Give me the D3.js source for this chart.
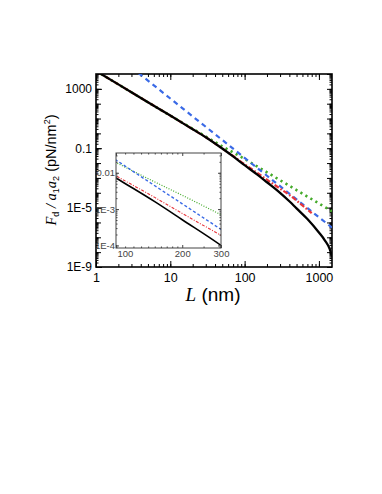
<!DOCTYPE html>
<html>
<head>
<meta charset="utf-8">
<script src="https://cdn.jsdelivr.net/npm/d3@7"></script>
<style>
  body { margin: 0; background: #fff; }
  svg { display: block; }
</style>
</head>
<body>
<script>
// values: L in nm, F/a1a2 in pN/nm^2
const lengthBlack = [1, 2, 5, 10, 20, 30, 50, 70, 100, 150, 200, 300, 400, 500, 700, 1000, 1200, 1400, 1500];
const forceBlack = [1.6e4, 2.0e3, 126, 15.8, 1.9, 0.55, 0.095, 0.028, 7.2e-3, 1.6e-3, 5.1e-4, 1.0e-4, 2.7e-5, 8.9e-6, 1.7e-6, 2.1e-7, 6.3e-8, 1.6e-8, 5e-9];

const lengthRed = [1, 2, 5, 10, 20, 30, 50, 70, 100, 150, 200, 300, 400, 500, 600, 800];
const forceRed = [1.6e4, 2.0e3, 126, 15.8, 1.9, 0.55, 0.095, 0.03, 8.3e-3, 2.1e-3, 7.6e-4, 1.9e-4, 7.1e-5, 3.0e-5, 1.4e-5, 4.2e-6];

const lengthBlue = [3, 5, 10, 20, 50, 100, 150, 200, 300, 500, 1000, 1500];
const forceBlue = [2.75e4, 3.6e3, 224, 14, 0.36, 0.0224, 4.4e-3, 1.4e-3, 2.76e-4, 3.6e-5, 2.24e-6, 4.5e-7];

const lengthGreen = [1, 2, 5, 10, 20, 50, 100, 150, 200, 300, 500, 1000, 1500];
const forceGreen = [1.6e4, 2.0e3, 126, 15.8, 2.05, 0.135, 0.019, 5.6e-3, 2.4e-3, 7.0e-4, 1.52e-4, 1.9e-5, 5.6e-6];

const xTicks = [1, 10, 100, 1000];
const xTickLabels = ['1', '10', '100', '1000'];
const yTicks = [1e3, 1e-1, 1e-5, 1e-9];
const yTickLabels = ['1000', '0.1', '1E-5', '1E-9'];

const insetXTicks = [100, 200, 300];
const insetXTickLabels = ['100', '200', '300'];
const insetYTicks = [1e-2, 1e-3, 1e-4];
const insetYTickLabels = ['0.01', '1E-3', '1E-4'];

const width = 382;
const height = 494;
const sans = '"Liberation Sans", Arial, sans-serif';
const serif = '"Liberation Serif", "Times New Roman", serif';

const svg = d3.select('body').append('svg')
  .attr('width', width)
  .attr('height', height);

svg.append('rect').attr('width', width).attr('height', height).attr('fill', '#fff');

const plot = { left: 96, right: 332, top: 74, bottom: 267 };
const x = d3.scaleLog().domain([1, 1500]).range([plot.left, plot.right]);
const y = d3.scaleLog().domain([1e-9, 1e4]).range([plot.bottom, plot.top]);

// log minor ticks 2..9 per decade inside a domain
function minorTicks(lo, hi) {
  const out = [];
  for (let k = Math.floor(Math.log10(lo)); k <= Math.ceil(Math.log10(hi)); k++) {
    for (let m = 1; m <= 9; m++) {
      const v = m * Math.pow(10, k);
      if (v >= lo && v <= hi) out.push(v);
    }
  }
  return out;
}

function drawAxis(axis, tx, ty, fontSize, color) {
  const g = svg.append('g')
    .attr('transform', `translate(${tx},${ty})`)
    .call(axis);
  g.select('.domain').remove();
  g.attr('font-family', sans).attr('font-size', fontSize);
  g.selectAll('line').attr('stroke', color);
  g.selectAll('text').attr('fill', color);
  return g;
}

// ---- main axes ----
const xMinor = minorTicks(1, 1500);
const yDecades = d3.range(-9, 5).map(k => Math.pow(10, k));
const yMinor = minorTicks(1e-9, 1e4);

drawAxis(d3.axisBottom(x).tickValues(xMinor).tickSize(-3).tickFormat(''), 0, plot.bottom, 12, '#000');
drawAxis(d3.axisBottom(x).tickValues(xTicks).tickSize(-6).tickPadding(6)
  .tickFormat((d, i) => xTickLabels[i]), 0, plot.bottom, 12.5, '#000');
drawAxis(d3.axisTop(x).tickValues(xMinor).tickSize(-3).tickFormat(''), 0, plot.top, 12, '#000');
drawAxis(d3.axisTop(x).tickValues(xTicks).tickSize(-6).tickFormat(''), 0, plot.top, 12, '#000');

drawAxis(d3.axisLeft(y).tickValues(yMinor).tickSize(-2.5).tickFormat(''), plot.left, 0, 12, '#000');
drawAxis(d3.axisLeft(y).tickValues(yDecades).tickSize(-5).tickFormat(''), plot.left, 0, 12, '#000');
drawAxis(d3.axisLeft(y).tickValues(yTicks).tickSize(-6).tickPadding(4)
  .tickFormat((d, i) => yTickLabels[i]), plot.left, 0, 12, '#000');
drawAxis(d3.axisRight(y).tickValues(yMinor).tickSize(-2.5).tickFormat(''), plot.right, 0, 12, '#000');
drawAxis(d3.axisRight(y).tickValues(yDecades).tickSize(-5).tickFormat(''), plot.right, 0, 12, '#000');

svg.append('rect')
  .attr('x', plot.left).attr('y', plot.top)
  .attr('width', plot.right - plot.left).attr('height', plot.bottom - plot.top)
  .attr('fill', 'none').attr('stroke', '#000').attr('stroke-width', 1.6);

// ---- curves ----
svg.append('clipPath').attr('id', 'clipMain').append('rect')
  .attr('x', plot.left).attr('y', plot.top)
  .attr('width', plot.right - plot.left).attr('height', plot.bottom - plot.top);

const series = [
  { L: lengthGreen, F: forceGreen, color: '#44aa2a', dash: '2.2,3.6', w: 2.6, iw: 1.2, idash: '1,1.6' },
  { L: lengthBlue, F: forceBlue, color: '#3a6ae6', dash: '5,4', w: 2.2, iw: 1.4, idash: '3,2.2' },
  { L: lengthRed, F: forceRed, color: '#e8343a', dash: '5,2,1.6,2', w: 2.2, iw: 1.1, idash: '3,1.5,1,1.5' },
  { L: lengthBlack, F: forceBlack, color: '#000', dash: null, w: 2.3, iw: 1.6, idash: null }
];

const mainLine = d3.line()
  .x(d => x(d[0]))
  .y(d => y(d[1]))
  .curve(d3.curveMonotoneX);

const curves = svg.append('g').attr('clip-path', 'url(#clipMain)');
series.forEach(s => {
  curves.append('path')
    .datum(s.L.map((l, i) => [l, s.F[i]]))
    .attr('d', mainLine)
    .attr('fill', 'none')
    .attr('stroke', s.color)
    .attr('stroke-width', s.w)
    .attr('stroke-dasharray', s.dash);
});

// ---- inset ----
const inset = { left: 116, right: 221, top: 153, bottom: 248 };
const ix = d3.scaleLog().domain([100, 300]).range([inset.left, inset.right]);
const iy = d3.scaleLog().domain([8.5e-5, 0.035]).range([inset.bottom, inset.top]);

svg.append('rect')
  .attr('x', inset.left).attr('y', inset.top)
  .attr('width', inset.right - inset.left).attr('height', inset.bottom - inset.top)
  .attr('fill', '#fff');

svg.append('clipPath').attr('id', 'clipInset').append('rect')
  .attr('x', inset.left).attr('y', inset.top)
  .attr('width', inset.right - inset.left).attr('height', inset.bottom - inset.top);

const insetLine = d3.line()
  .x(d => ix(d[0]))
  .y(d => iy(d[1]))
  .curve(d3.curveMonotoneX);

const insetCurves = svg.append('g').attr('clip-path', 'url(#clipInset)');
series.forEach(s => {
  insetCurves.append('path')
    .datum(s.L.map((l, i) => [l, s.F[i]]))
    .attr('d', insetLine)
    .attr('fill', 'none')
    .attr('stroke', s.color)
    .attr('stroke-width', s.iw)
    .attr('stroke-dasharray', s.idash);
});

const insetXMinor = [110, 120, 130, 140, 150, 160, 170, 180, 190, 250];
const insetYMinor = minorTicks(8.5e-5, 0.035);
const grey = '#444';

const insetBottom = drawAxis(d3.axisBottom(ix).tickValues(insetXTicks).tickSize(-3).tickPadding(2)
  .tickFormat((d, i) => insetXTickLabels[i]), 0, inset.bottom, 9.5, grey);
// first label sits right of the corner, clear of the 1E-4 label
insetBottom.selectAll('text').filter((d, i) => i === 0).attr('text-anchor', 'start').attr('dx', 1);
drawAxis(d3.axisBottom(ix).tickValues(insetXMinor).tickSize(-1.5).tickFormat(''), 0, inset.bottom, 9, grey);
drawAxis(d3.axisTop(ix).tickValues(insetXTicks).tickSize(-3).tickFormat(''), 0, inset.top, 9, grey);
drawAxis(d3.axisTop(ix).tickValues(insetXMinor).tickSize(-1.5).tickFormat(''), 0, inset.top, 9, grey);
drawAxis(d3.axisLeft(iy).tickValues(insetYTicks).tickSize(-3).tickPadding(1)
  .tickFormat((d, i) => insetYTickLabels[i]), inset.left, 0, 9.5, grey);
drawAxis(d3.axisLeft(iy).tickValues(insetYMinor).tickSize(-1.5).tickFormat(''), inset.left, 0, 9, grey);
drawAxis(d3.axisRight(iy).tickValues(insetYTicks).tickSize(-3).tickFormat(''), inset.right, 0, 9, grey);
drawAxis(d3.axisRight(iy).tickValues(insetYMinor).tickSize(-1.5).tickFormat(''), inset.right, 0, 9, grey);

svg.append('rect')
  .attr('x', inset.left).attr('y', inset.top)
  .attr('width', inset.right - inset.left).attr('height', inset.bottom - inset.top)
  .attr('fill', 'none').attr('stroke', grey).attr('stroke-width', 1);

// ---- axis titles ----
const xTitle = svg.append('text')
  .attr('x', 213).attr('y', 301)
  .attr('text-anchor', 'middle')
  .attr('font-size', 19)
  .attr('fill', '#000');
xTitle.append('tspan').attr('font-family', serif).attr('font-style', 'italic').text('L');
xTitle.append('tspan').attr('font-family', sans).text(' (nm)');

const yTitle = svg.append('text')
  .attr('transform', 'translate(56,170) rotate(-90)')
  .attr('text-anchor', 'middle')
  .attr('font-size', 14.5)
  .attr('fill', '#000');
yTitle.append('tspan').attr('font-family', serif).attr('font-style', 'italic').text('F');
yTitle.append('tspan').attr('font-family', sans).attr('font-size', 9).attr('dy', 3).text('d');
yTitle.append('tspan').attr('font-family', serif).attr('font-style', 'italic').attr('dy', -3).text(' / ');
yTitle.append('tspan').attr('font-family', serif).attr('font-style', 'italic').text('a');
yTitle.append('tspan').attr('font-family', sans).attr('font-size', 9).attr('dy', 3).text('1');
yTitle.append('tspan').attr('font-family', serif).attr('font-style', 'italic').attr('dy', -3).text('a');
yTitle.append('tspan').attr('font-family', sans).attr('font-size', 9).attr('dy', 3).text('2');
yTitle.append('tspan').attr('font-family', sans).attr('dy', -3).text(' (pN/nm');
yTitle.append('tspan').attr('font-family', sans).attr('font-size', 9).attr('dy', -6).text('2');
yTitle.append('tspan').attr('font-family', sans).attr('dy', 6).text(')');
</script>
</body>
</html>
